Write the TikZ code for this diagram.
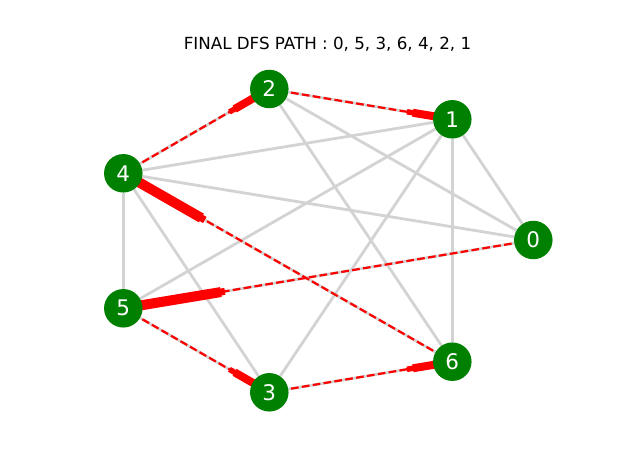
\documentclass[tikz,border=0pt]{standalone}
\usepackage{fontspec}
\setmainfont{DejaVu Sans}
\usetikzlibrary{calc}
\pgfdeclarelayer{background}
\pgfsetlayers{background,main}
\definecolor{netgreen}{RGB}{0,128,0}
\definecolor{edgegray}{RGB}{211,211,211}
\begin{document}
\begin{tikzpicture}[x=1pt,y=-1pt,
  vtx/.style={circle,fill=netgreen,minimum size=38.5pt,inner sep=0pt,text=white,font=\fontsize{21.5}{24}\selectfont},
  grayedge/.style={draw=edgegray,line width=2.8pt},
  redpath/.style={draw=red,line width=2.2pt,dash pattern=on 7.7pt off 3.3pt},
  headmain/.style={draw=red,line width=8pt},
  headtail/.style={draw=red,line width=5.5pt},
  headbig/.style={draw=red,line width=10pt},
  headbigtail/.style={draw=red,line width=7pt},
  titletext/.style={font=\fontsize{16.7}{20}\selectfont}]
\useasboundingbox (0,0) rectangle (640,476);
\node[titletext] (title) at (327.5,44) {FINAL DFS PATH : 0, 5, 3, 6, 4, 2, 1};
\node[vtx] (n0) at (533.3,240) {0};
\node[vtx] (n1) at (452.3,119.3) {1};
\node[vtx] (n2) at (269.3,89) {2};
\node[vtx] (n3) at (269.3,392.3) {3};
\node[vtx] (n4) at (123.3,173.3) {4};
\node[vtx] (n5) at (123.3,308.3) {5};
\node[vtx] (n6) at (452.3,361.7) {6};
\begin{pgfonlayer}{background}
% gray edges
\foreach \a/\b in {n4/n1,n4/n0,n4/n5,n4/n3,n2/n0,n2/n6,n1/n0,n1/n6,n1/n5,n1/n3,
                   n0/n5,n5/n3,n3/n6,n6/n4,n4/n2,n2/n1}
  \draw[grayedge] (\a) -- (\b);
% red dashed DFS path
\foreach \a/\b in {n0/n5,n5/n3,n3/n6,n6/n4,n4/n2,n2/n1}
  \draw[redpath] (\a.center) -- (\b.center);
% short heads
\foreach \a/\b in {n4/n2,n2/n1,n5/n3,n3/n6}{
  \draw[headmain] (\b.center) -- ($(\b.center)!40pt!(\a.center)$);
  \draw[headtail] ($(\b.center)!39pt!(\a.center)$) -- ($(\b.center)!46pt!(\a.center)$);
}
% long heads
\draw[headbig] (n5.center) -- ($(n5.center)!99pt!(n0.center)$);
\draw[headbigtail] ($(n5.center)!98pt!(n0.center)$) -- ($(n5.center)!103pt!(n0.center)$);
\draw[headbig] (n4.center) -- ($(n4.center)!90pt!(n6.center)$);
\draw[headbigtail] ($(n4.center)!89pt!(n6.center)$) -- ($(n4.center)!94pt!(n6.center)$);
\end{pgfonlayer}
\end{tikzpicture}
\end{document}
